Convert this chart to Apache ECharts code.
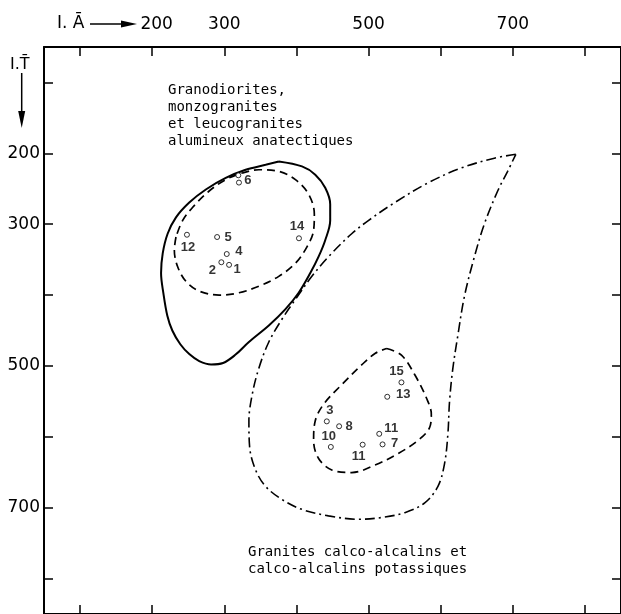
<!DOCTYPE html>
<html><head><meta charset="utf-8">
<script src="https://cdn.jsdelivr.net/npm/echarts@6/dist/echarts.min.js"></script>
<style>html,body{margin:0;padding:0;background:#fff}#c{width:621px;height:614px}</style>
</head><body><div id="c"></div>
<script>
// Axis ticks and labels
const xTickValues = [100, 200, 300, 400, 500, 600, 700, 800];
const xLabelValues = [200, 300, 500, 700];
const yTickValues = [100, 200, 300, 400, 500, 600, 700, 800];
const yLabelValues = [200, 300, 500, 700];

// Samples: name, I.A, I.T
const pointNames = ['1', '2', '3', '4', '5', '', '6', '7', '8', '10', '11', '11', '12', '13', '14', '15'];
const pointA = [306.6, 295.9, 442.1, 303.4, 290.0, 319.4, 320.3, 519.4, 459.2, 447.7, 491.8, 514.8, 248.2, 525.9, 403.5, 545.6];
const pointT = [357.4, 353.7, 578.2, 342.1, 318.1, 231.0, 241.3, 610.7, 585.1, 614.3, 611.1, 595.8, 314.9, 543.5, 319.9, 523.2];

// Envelope: granodiorites / monzogranites / leucogranites (solid)
const solidA = [375.5, 407.7, 426.1, 439.9, 446.8, 446.8, 439.9, 430.7, 419.2, 403.1, 384.8, 361.7, 334.1, 314.8, 298.3, 281.7, 265.2, 251.4, 239.0, 227.9, 221.0, 215.5, 212.3, 214.6, 221.4, 233.0, 251.4, 274.4, 302.0, 329.6, 357.2, 375.5];
const solidT = [211.5, 218.5, 230.1, 248.6, 271.8, 294.9, 322.6, 345.8, 369.0, 396.8, 419.9, 443.0, 466.2, 484.7, 495.8, 497.9, 493.1, 483.3, 469.4, 450.0, 429.2, 397.2, 369.0, 341.2, 313.5, 290.3, 269.4, 251.0, 234.7, 223.2, 216.2, 211.5];

// Upper dashed envelope
const dashUpA = [233.0, 230.7, 235.2, 246.8, 265.2, 292.8, 320.3, 347.9, 375.5, 398.6, 414.6, 423.8, 424.8, 416.9, 398.6, 375.5, 347.9, 324.9, 302.0, 279.0, 255.9, 242.1, 233.0];
const dashUpT = [318.1, 336.5, 359.7, 380.6, 394.4, 400.0, 396.8, 387.5, 373.6, 355.1, 331.9, 308.8, 285.7, 257.9, 237.1, 225.4, 223.2, 227.8, 237.1, 253.2, 276.4, 294.9, 318.1];

// Lower dashed envelope
const dashLowA = [524.9, 545.6, 564.1, 580.1, 587.0, 584.8, 568.6, 541.0, 508.9, 476.6, 449.0, 430.7, 423.8, 426.1, 437.6, 462.8, 490.4, 508.9, 524.9];
const dashLowT = [475.4, 484.7, 512.5, 544.9, 568.0, 586.5, 605.1, 623.6, 639.9, 650.4, 646.8, 630.6, 605.1, 577.4, 554.2, 526.4, 498.6, 482.4, 475.4];

// Dash-dot envelope: granites calco-alcalins
const dashDotA = [704.2, 674.4, 628.3, 582.4, 536.5, 499.7, 476.6, 444.5, 421.4, 398.6, 380.1, 361.7, 347.9, 338.7, 334.1, 335.1, 343.4, 357.2, 380.1, 407.7, 444.5, 485.9, 518.0, 550.3, 577.9, 596.2, 605.4, 610.0, 612.3, 616.9, 623.8, 633.0, 646.8, 660.6, 679.0, 692.8, 704.2];
const dashDotT = [201.4, 206.9, 220.8, 241.7, 269.4, 294.9, 313.5, 345.8, 373.6, 406.0, 433.8, 466.2, 503.2, 540.3, 577.4, 614.3, 646.8, 669.9, 688.5, 702.4, 711.5, 716.3, 713.9, 707.0, 693.1, 669.9, 637.5, 595.8, 549.6, 503.2, 456.9, 401.4, 345.8, 299.6, 253.2, 225.4, 201.4];

// Annotation texts
const upperNote = ['Granodiorites,', 'monzogranites', 'et leucogranites', 'alumineux anatectiques'];
const lowerNote = ['Granites calco-alcalins et', 'calco-alcalins potassiques'];

// Label placement (style)
const labelOffsets = [[8,5],[-9,8],[3,-11],[12,-3],[11,0],[0,0],[9,-2],[12,-1],[10,0],[-2,-11],[-4,12],[12,-5],[1,13],[16,-2],[-2,-12],[-5,-11]];

const zip = (a, b) => a.map((v, i) => [v, b[i]]);
const chart = echarts.init(document.getElementById('c'), null, {renderer: 'canvas'});
const numFont = 'DejaVu Sans';
const monoFont = '14px "DejaVu Sans Mono"';

function axisCommon(pos, showLabel, ticks, labels) {
  return {
    type: 'value', position: pos, min: 50, max: 850,
    axisLine: {show: true, onZero: false, lineStyle: {color: '#000', width: 2}},
    axisTick: {show: true, inside: true, length: 9, customValues: ticks, lineStyle: {color: '#000', width: 1.5}},
    axisLabel: {show: showLabel, customValues: labels, color: '#000', fontSize: 17, fontFamily: numFont},
    splitLine: {show: false}
  };
}

const xTop = axisCommon('top', true, xTickValues, xLabelValues);
xTop.axisLabel.margin = 14;
xTop.axisLabel.formatter = v => (v === 200 ? '{s|' + v + '}' : String(v));
xTop.axisLabel.rich = {s: {padding: [0, 0, 0, 9], fontSize: 17, fontFamily: numFont, color: '#000'}};
const xBottom = axisCommon('bottom', false, xTickValues, xLabelValues);
const yLeft = axisCommon('left', true, yTickValues, yLabelValues);
yLeft.inverse = true; yLeft.axisLabel.margin = 4;
const yRight = axisCommon('right', false, yTickValues, yLabelValues);
yRight.inverse = true;

const graphics = [
  {type: 'text', x: 57, y: 24, style: {text: 'I. Ā', font: '17px "DejaVu Sans"', fill: '#000', verticalAlign: 'middle'}},
  {type: 'line', shape: {x1: 90, y1: 24, x2: 124, y2: 24}, style: {stroke: '#000', lineWidth: 1.5}},
  {type: 'polygon', shape: {points: [[121, 20.5], [137, 24], [121, 27.5]]}, style: {fill: '#000'}},
  {type: 'text', x: 10, y: 65, style: {text: 'I.T̄', font: '16px "DejaVu Sans"', fill: '#000', verticalAlign: 'middle'}},
  {type: 'line', shape: {x1: 21.7, y1: 73, x2: 21.7, y2: 114}, style: {stroke: '#000', lineWidth: 1.5}},
  {type: 'polygon', shape: {points: [[18.2, 111], [21.7, 128], [25.2, 111]]}, style: {fill: '#000'}}
];
upperNote.forEach((t, i) => graphics.push({type: 'text', x: 168, y: 90 + i * 17, style: {text: t, font: monoFont, fill: '#000', verticalAlign: 'middle'}}));
lowerNote.forEach((t, i) => graphics.push({type: 'text', x: 248, y: 552 + i * 17, style: {text: t, font: monoFont, fill: '#000', verticalAlign: 'middle'}}));

const lineSeries = (name, a, t, type, width) => ({
  name, type: 'line', data: zip(a, t), smooth: 0.35, symbol: 'none', silent: true,
  lineStyle: {color: '#000', width, type}, animation: false, xAxisIndex: 0, yAxisIndex: 0
});

chart.setOption({
  backgroundColor: '#fff',
  animation: false,
  grid: {left: 44, top: 47, width: 580, height: 576},
  xAxis: [xTop, xBottom],
  yAxis: [yLeft, yRight],
  graphic: graphics,
  series: [
    lineSeries('solid', solidA, solidT, 'solid', 2),
    lineSeries('dashUp', dashUpA, dashUpT, [8, 5], 1.7),
    lineSeries('dashLow', dashLowA, dashLowT, [8, 5], 1.7),
    lineSeries('dashDot', dashDotA, dashDotT, [10, 4, 2, 4], 1.6),
    {
      type: 'scatter', xAxisIndex: 0, yAxisIndex: 0, symbol: 'circle', symbolSize: 5, z: 5,
      itemStyle: {color: '#fff', borderColor: '#000', borderWidth: 1},
      label: {show: true, position: 'inside', color: '#000', fontSize: 13, fontWeight: 'bold', fontFamily: 'Liberation Sans', formatter: p => p.name},
      data: pointA.map((a, i) => ({name: pointNames[i], value: [a, pointT[i]], label: {offset: labelOffsets[i]}}))
    }
  ]
});
</script></body></html>
